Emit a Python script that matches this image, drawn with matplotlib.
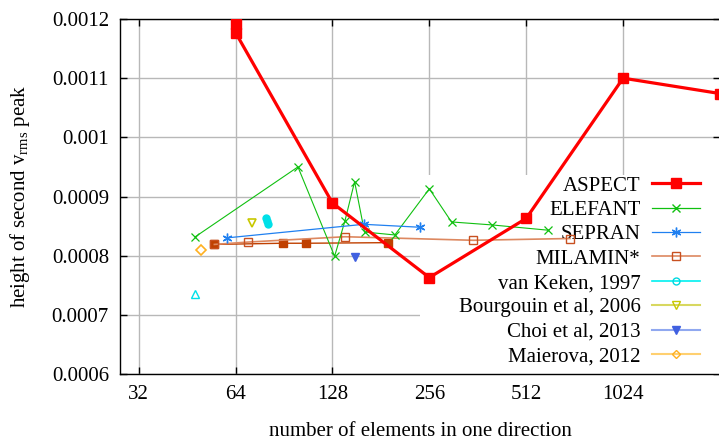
import matplotlib
matplotlib.use("Agg")
import matplotlib.pyplot as plt
from matplotlib.lines import Line2D
from matplotlib.patches import Rectangle

# ---------------- data ----------------
aspect_x = [64, 64, 128, 256, 512, 1024, 2048]
aspect_y = [0.001192, 0.001177, 0.000889, 0.000763, 0.000863, 0.001100, 0.001074]

elefant_x = [48, 100, 130, 140, 150, 161, 200, 256, 300, 400, 600]
elefant_y = [0.000832, 0.000950, 0.000799, 0.000859, 0.000925, 0.000840, 0.000835,
             0.000913, 0.000857, 0.000852, 0.000843]

sepran_x = [60, 160, 240]
sepran_y = [0.000830, 0.000853, 0.000848]

milamin_x = [55, 70, 140, 350, 700]
milamin_y = [0.000819, 0.000823, 0.000832, 0.000826, 0.000829]

milamin2_x = [55, 90, 106, 191]
milamin2_y = [0.000819, 0.000821, 0.000821, 0.000822]

vankeken_x = [79.5, 80, 80.5]
vankeken_y = [0.000864, 0.000858, 0.000853]

vankeken2_x = [48]
vankeken2_y = [0.000735]

bourgouin_x = [72]
bourgouin_y = [0.000856]

choi_x = [150]
choi_y = [0.000798]

maierova_x = [50]
maierova_y = [0.000809]

x_ticks = [32, 64, 128, 256, 512, 1024]
y_ticks = [0.0006, 0.0007, 0.0008, 0.0009, 0.0010, 0.0011, 0.0012]
y_ticklabels = ["0.0006", "0.0007", "0.0008", "0.0009", "0.001", "0.0011", "0.0012"]

labels = ["ASPECT", "ELEFANT", "SEPRAN", "MILAMIN*", "van Keken, 1997",
          "Bourgouin et al, 2006", "Choi et al, 2013", "Maierova, 2012"]

# ---------------- figure ----------------
plt.rcParams['font.family'] = ['Liberation Serif', 'DejaVu Serif']
FS = 15
W, H = 719, 442
fig = plt.figure(figsize=(W / 100, H / 100), dpi=100)
ax = fig.add_axes([120 / W, 1 - 374 / H, 600 / W, (374 - 19) / H])

ax.set_xscale('log', base=2)
ax.set_xlim(28, 2048)
ax.set_ylim(0.0006, 0.0012)

ax.set_xticks(x_ticks)
ax.set_xticklabels([str(v) for v in x_ticks])
ax.set_yticks(y_ticks)
ax.set_yticklabels(y_ticklabels)
ax.minorticks_off()
ax.tick_params(direction='in', top=True, right=True, length=5, width=1,
               labelsize=FS, pad=8, colors='black')
ax.tick_params(axis='x', pad=8)
for s in ax.spines.values():
    s.set_linewidth(1.0)

ax.set_axisbelow(True)
ax.grid(True, color='#b8b8b8', linewidth=1.0)

# opaque key background hiding the grid
bg = Rectangle(((420 - 120) / 600, 0), 1.0, (374 - 175) / 355.0, transform=ax.transAxes,
               facecolor='white', edgecolor='none', zorder=1)
ax.add_patch(bg)

# ---------------- series ----------------
ax.plot(milamin2_x, milamin2_y, color='#c04000', lw=1.0, marker='s', ms=6,
        mfc='#c04000', mec='#c04000', zorder=3)
ax.plot(milamin_x, milamin_y, color='#dd8860', lw=1.2, marker='s', ms=6,
        mfc='none', mec='#c85020', mew=1.0, zorder=3)
ax.plot(elefant_x, elefant_y, color='#10c010', lw=0.8, marker='x', ms=6, mew=0.9, zorder=4)
ax.plot(sepran_x, sepran_y, color='#2080f0', lw=0.9, marker=(6, 2, 0), ms=7, mew=1.0, zorder=4)
ax.plot(vankeken_x, vankeken_y, color='#00e0e8', lw=0, marker='o', ms=5, mfc='#00e0e8',
        mec='#00e0e8', zorder=4)
ax.plot(vankeken2_x, vankeken2_y, color='#00e0e8', lw=0, marker='^', ms=6, mfc='none',
        mec='#00e0e8', mew=1.0, zorder=4)
ax.plot(bourgouin_x, bourgouin_y, color='#c8c800', lw=0, marker='v', ms=6, mfc='none',
        mec='#c8c800', mew=1.2, zorder=4)
ax.plot(choi_x, choi_y, color='#4060e0', lw=0, marker='v', ms=6, mfc='#4060e0',
        mec='#4060e0', zorder=4)
ax.plot(maierova_x, maierova_y, color='#ffb020', lw=0, marker='D', ms=5, mfc='none',
        mec='#ffb020', mew=1.2, zorder=4)
ax.plot(aspect_x, aspect_y, color='#ff0000', lw=2.3, marker='s', ms=7, mfc='#ff0000',
        mec='#ff0000', zorder=5)

# ---------------- legend ----------------
handles = [
    Line2D([], [], color='#ff0000', lw=2.3, marker='s', ms=7),
    Line2D([], [], color='#10c010', lw=0.9, marker='x', ms=6),
    Line2D([], [], color='#2080f0', lw=0.9, marker=(6, 2, 0), ms=7),
    Line2D([], [], color='#dd8860', lw=1.2, marker='s', ms=6, mfc='none', mec='#c85020'),
    Line2D([], [], color='#00f0f0', lw=1.2, marker='o', ms=5, mfc='none', mec='#00d8e0'),
    Line2D([], [], color='#d8d860', lw=1.5, marker='v', ms=6, mfc='none', mec='#c8c800'),
    Line2D([], [], color='#90a8f0', lw=1.5, marker='v', ms=6, mfc='#4060e0', mec='#4060e0'),
    Line2D([], [], color='#ffd070', lw=1.5, marker='D', ms=4.5, mfc='none', mec='#ffb020'),
]
leg = ax.legend(handles, labels, loc='upper right', bbox_to_anchor=(700 / W, 1 - 176 / H),
                bbox_transform=fig.transFigure, frameon=False, markerfirst=False,
                fontsize=FS, handlelength=2.3, handletextpad=0.55, labelspacing=0.23,
                borderpad=0, borderaxespad=0)
leg.set_zorder(1.5)

ax.set_xlabel("number of elements in one direction", fontsize=FS, labelpad=13)
ax.set_ylabel(r"height of second v$_{\mathregular{rms}}$ peak", fontsize=FS, labelpad=14)

fig.savefig("out.png", dpi=100)
